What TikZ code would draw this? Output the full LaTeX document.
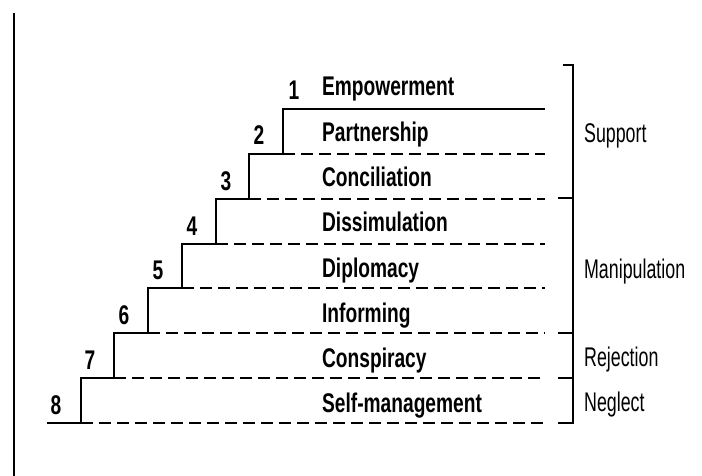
\documentclass[tikz,border=0pt]{standalone}
\usepackage{fontspec}
\setmainfont{Liberation Sans}

\begin{document}
\begin{tikzpicture}[x=1pt, y=-1pt,
    lvl/.style={anchor=base west, font=\bfseries\fontsize{27}{27}\selectfont, xscale=0.71, inner sep=0pt},
    num/.style={anchor=base, font=\bfseries\fontsize{27}{27}\selectfont, xscale=0.71, inner sep=0pt},
    grp/.style={anchor=base west, font=\fontsize{27}{27}\selectfont, xscale=0.66, inner sep=0pt},
    stair/.style={line width=2.2pt},
    rung/.style={line width=2.2pt, dash pattern=on 12pt off 6pt},
    brk/.style={line width=1.6pt}]
  \useasboundingbox (0,0) rectangle (702,476);
  \draw[line width=2pt] (14,13) -- (14,476);
  % staircase, solid part
  \draw[stair] (47,423) -- (81,423) |- (114,378) |- (148,333) |- (182,288) |- (216,244)
    |- (249,199) |- (283,154) |- (545,109);
  % dashed rungs
  \foreach \y/\x in {154/283, 199/249, 244/216, 288/182, 333/148, 378/114, 423/81}
    \draw[rung] (\x,\y) -- (545,\y);
  \node[lvl] (emp) at (322,96)  {Empowerment};
  \node[lvl] (par) at (322,142) {Partnership};
  \node[lvl] (con) at (322,187) {Conciliation};
  \node[lvl] (dis) at (322,232) {Dissimulation};
  \node[lvl] (dip) at (322,277) {Diplomacy};
  \node[lvl] (inf) at (322,322) {Informing};
  \node[lvl] (csp) at (322,367) {Conspiracy};
  \node[lvl] (slf) at (322,412) {Self-management};
  \node[num] (n1) at (294,100) {1};
  \node[num] (n2) at (259,145) {2};
  \node[num] (n3) at (226,190) {3};
  \node[num] (n4) at (192,235) {4};
  \node[num] (n5) at (158,279) {5};
  \node[num] (n6) at (124,324) {6};
  \node[num] (n7) at (90,369)  {7};
  \node[num] (n8) at (56,414)  {8};
  % bracket on the right
  \draw[brk] (563,65) -| (573,423) -- (558,423);
  \foreach \y in {198, 333, 378}
    \draw[brk] (558,\y) -- (573,\y);
  \node[grp] (sup) at (584,143) {Support};
  \node[grp] (man) at (584,278) {Manipulation};
  \node[grp] (rej) at (584,366) {Rejection};
  \node[grp] (neg) at (584,411) {Neglect};
\end{tikzpicture}
\end{document}
